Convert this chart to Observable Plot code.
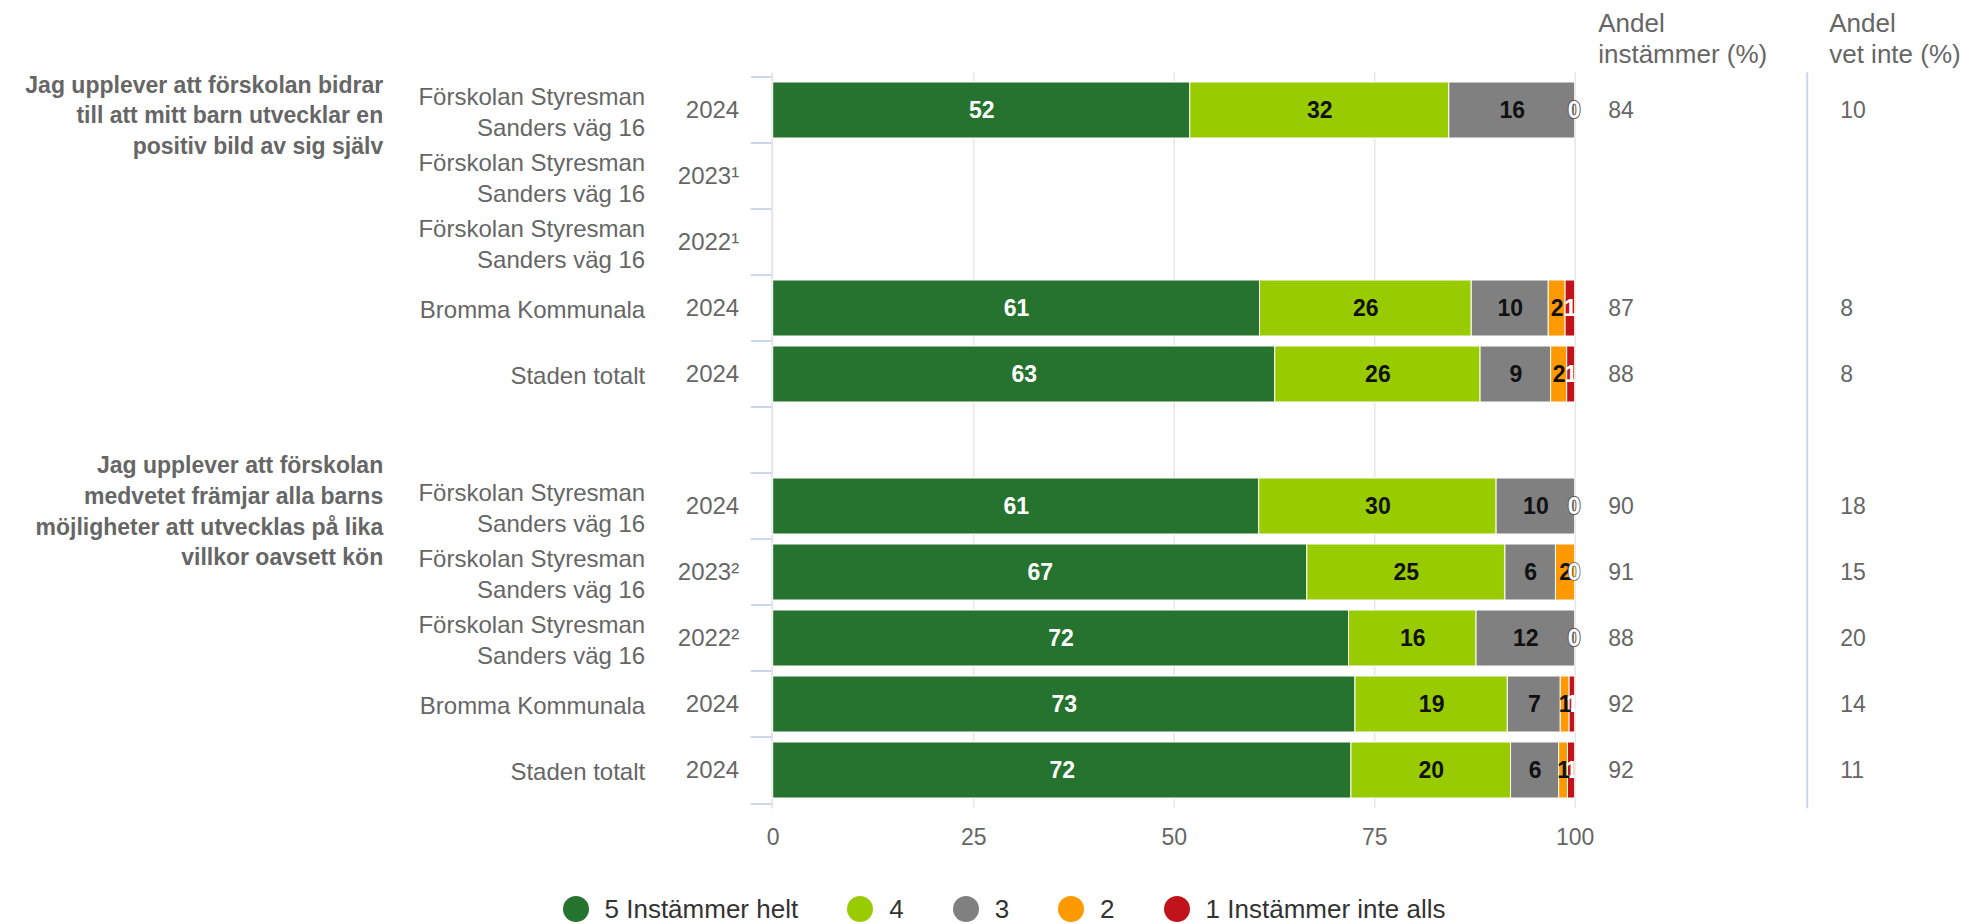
<!DOCTYPE html>
<html><head><meta charset="utf-8">
<script src="https://cdn.jsdelivr.net/npm/d3@7"></script>
<script src="https://cdn.jsdelivr.net/npm/@observablehq/plot@0.6"></script>
<style>
body{margin:0;background:#fff;font-family:"Liberation Sans",Arial,sans-serif;}
#legend{display:flex;justify-content:center;align-items:center;height:78px;padding-left:38px;gap:49px;font-size:26px;color:#333;}
.item{display:flex;align-items:center;}
.dot{width:26px;height:26px;border-radius:50%;margin-right:16px;}
</style></head><body><div id="chart"></div><div id="legend"></div>
<script>
// ---- data ----
const questions = [
  "Jag upplever att förskolan bidrar\ntill att mitt barn utvecklar en\npositiv bild av sig själv",
  "Jag upplever att förskolan\nmedvetet främjar alla barns\nmöjligheter att utvecklas på lika\nvillkor oavsett kön"
];
const questionFirstRow = [0, 6];
const units = [
  "Förskolan Styresman\nSanders väg 16", "Förskolan Styresman\nSanders väg 16", "Förskolan Styresman\nSanders väg 16",
  "Bromma Kommunala", "Staden totalt", "",
  "Förskolan Styresman\nSanders väg 16", "Förskolan Styresman\nSanders väg 16", "Förskolan Styresman\nSanders väg 16",
  "Bromma Kommunala", "Staden totalt"
];
const years = ["2024", "2023¹", "2022¹", "2024", "2024", "", "2024", "2023²", "2022²", "2024", "2024"];
const levels = ["5 Instämmer helt", "4", "3", "2", "1 Instämmer inte alls"];
const colors = ["#267330", "#99cc00", "#808080", "#ff9900", "#c0141a"];
const level5 = [52.0, null, null, 60.7, 62.6, null, 60.6, 66.6, 71.8, 72.6, 72.1];
const level4 = [32.3, null, null, 26.4, 25.6, null, 29.6, 24.7, 15.9, 19.0, 19.9];
const level3 = [15.7, null, null, 9.6, 8.8, null, 9.8, 6.3, 12.3, 6.6, 6.0];
const level2 = [0, null, null, 2.1, 2.0, null, 0, 2.4, 0, 1.1, 1.1];
const level1 = [0, null, null, 1.2, 1.0, null, 0, 0, 0, 0.7, 0.9];
const instammer = [84, null, null, 87, 88, null, 90, 91, 88, 92, 92];
const vetInte = [10, null, null, 8, 8, null, 18, 15, 20, 14, 11];
const headers = ["Andel\ninstämmer (%)", "Andel\nvet inte (%)"];
const xTicks = [0, 25, 50, 75, 100];

// ---- derived table ----
const rowIds = d3.range(units.length);
const series = [level5, level4, level3, level2, level1];
const segments = [];
rowIds.forEach(i => {
  let acc = 0;
  series.forEach((s, k) => {
    const v = s[i];
    if (v == null) return;
    segments.push({row: i, k, level: levels[k], value: v, x1: acc, x2: acc + v});
    acc += v;
  });
});
const qData = questions.map((q, j) => ({row: questionFirstRow[j], text: q}));

const plotTop = 72.3, plotBottom = 808.3, svgH = 870;
const step = (plotBottom - plotTop) / rowIds.length;
const grey = "#666666";
const mid = d => (d.x1 + d.x2) / 2;
const lbl = d => String(Math.round(d.value));

const chart = Plot.plot({
  width: 1970, height: svgH,
  marginTop: plotTop, marginBottom: svgH - plotBottom, marginLeft: 772.7, marginRight: 1970 - 1574.7,
  style: {fontFamily: "'Liberation Sans', Arial, sans-serif", fontSize: "24px", color: grey, background: "#fff", overflow: "visible"},
  x: {domain: [0, 100], axis: null},
  y: {type: "band", domain: rowIds, paddingInner: 0.148, paddingOuter: 0.074, axis: null},
  color: {domain: levels, range: colors},
  marks: [
    Plot.gridX(xTicks.slice(1), {stroke: "#e6e6e6", strokeOpacity: 1, strokeWidth: 1.5}),
    Plot.ruleX([0], {stroke: "#e6e6e6", strokeWidth: 2, dx: -1}),
    Plot.ruleX([100], {dx: 232, stroke: "#ccd6eb", strokeWidth: 2}),
    Plot.axisY(rowIds, {label: null, tickSize: 21, tickFormat: () => "", stroke: "#ccd6eb", strokeWidth: 2, strokeOpacity: 1, dy: -step / 2, dx: -1}),
    Plot.axisY([rowIds[rowIds.length - 1]], {label: null, tickSize: 21, tickFormat: () => "", stroke: "#ccd6eb", strokeWidth: 2, strokeOpacity: 1, dy: step / 2, dx: -1}),
    Plot.axisX(xTicks, {anchor: "bottom", tickSize: 0, tickPadding: 20, fontSize: 23, fill: grey, label: null}),
    Plot.barX(segments.filter(d => d.value > 0), {x1: "x1", x2: "x2", y: "row", fill: "level", stroke: "white", strokeWidth: 1}),
    Plot.text(segments.filter(d => d.value > 0 && (d.k === 0 || d.k === 4)), {x: mid, y: "row", text: lbl, fill: "white", fontWeight: "bold", fontSize: 23}),
    Plot.text(segments.filter(d => d.value > 0 && d.k > 0 && d.k < 4), {x: mid, y: "row", text: lbl, fill: "#111", fontWeight: "bold", fontSize: 23}),
    Plot.text(segments.filter(d => d.value === 0), {x: mid, y: "row", text: lbl, fill: "white", stroke: "#555", strokeWidth: 1.5, paintOrder: "stroke", fontWeight: "bold", fontSize: 23, dx: -1}),
    Plot.text(rowIds, {y: d => d, text: i => units[i], frameAnchor: "left", dx: -128, textAnchor: "end", lineHeight: 1.3, fill: grey, fontSize: 24}),
    Plot.text(rowIds, {y: d => d, text: i => years[i], frameAnchor: "left", dx: -34, textAnchor: "end", fill: grey, fontSize: 24}),
    Plot.text(qData, {y: "row", text: "text", frameAnchor: "left", dx: -390, dy: 3, textAnchor: "end", lineHeight: 1.33, fontWeight: "bold", fill: grey, fontSize: 23}),
    Plot.text(rowIds, {y: d => d, text: i => instammer[i] == null ? "" : String(instammer[i]), frameAnchor: "right", dx: 33, textAnchor: "start", fill: grey, fontSize: 23}),
    Plot.text(rowIds, {y: d => d, text: i => vetInte[i] == null ? "" : String(vetInte[i]), frameAnchor: "right", dx: 265, textAnchor: "start", fill: grey, fontSize: 23}),
    Plot.text([headers[0]], {text: d => d, frameAnchor: "top-right", dx: 23, dy: -35, textAnchor: "start", lineAnchor: "middle", lineHeight: 1.2, fill: grey, fontSize: 26}),
    Plot.text([headers[1]], {text: d => d, frameAnchor: "top-right", dx: 254, dy: -35, textAnchor: "start", lineAnchor: "middle", lineHeight: 1.2, fill: grey, fontSize: 26})
  ]
});
document.getElementById("chart").appendChild(chart);

const legend = d3.select("#legend");
levels.forEach((l, k) => {
  const it = legend.append("div").attr("class", "item");
  it.append("span").attr("class", "dot").style("background", colors[k]);
  it.append("span").text(l);
});
</script></body></html>
